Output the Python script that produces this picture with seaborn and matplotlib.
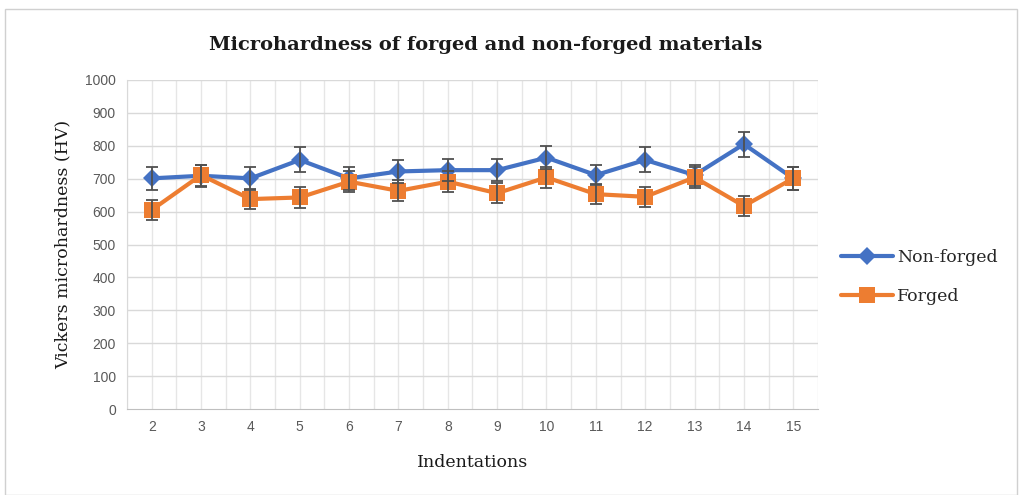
import pandas as pd
import numpy as np
import matplotlib
matplotlib.use("Agg")
import matplotlib.pyplot as plt
import seaborn as sns
from matplotlib.patches import Rectangle

# data
indentations = [2, 3, 4, 5, 6, 7, 8, 9, 10, 11, 12, 13, 14, 15]
non_forged = [701, 709, 701, 757, 701, 722, 726, 726, 764, 711, 757, 711, 805, 701]
non_forged_err = [35, 33, 35, 38, 35, 35, 34, 34, 34, 31, 38, 32, 38, 34]
forged = [605, 711, 638, 643, 691, 663, 691, 656, 704, 653, 645, 704, 617, 701]
forged_err = [30, 32, 30, 31, 32, 32, 32, 31, 32, 30, 31, 32, 31, 34]

series_names = ["Non-forged", "Forged"]
colors = ["#4472C4", "#ED7D31"]
markers = ["D", "s"]

df = pd.DataFrame({
    "Indentations": indentations * 2,
    "HV": non_forged + forged,
    "err": non_forged_err + forged_err,
    "Material": ["Non-forged"] * len(indentations) + ["Forged"] * len(indentations),
})

sns.set_style("white")
fig = plt.figure(figsize=(10.22, 4.95), dpi=100)
ax = fig.add_axes([0.1243, 0.1737, 0.676, 0.6647])

# gridlines at every half category, like the original
for x in np.arange(1.5, 15.6, 0.5):
    ax.axvline(x, color="#E6E6E6", lw=1, zorder=0)
for y in range(100, 1001, 100):
    ax.axhline(y, color="#D9D9D9", lw=1, zorder=0)

sns.lineplot(data=df, x="Indentations", y="HV", hue="Material", style="Material",
             hue_order=series_names, style_order=series_names,
             palette=colors, markers=markers, dashes=False, lw=3,
             markersize=9, markeredgewidth=0, ax=ax, legend=True, zorder=3)
# squares a bit bigger
for line in ax.get_lines():
    if line.get_marker() == "s":
        line.set_markersize(11)

for vals, errs in [(non_forged, non_forged_err), (forged, forged_err)]:
    ax.errorbar(indentations, vals, yerr=errs, fmt="none", ecolor="#505050",
                elinewidth=1.3, capsize=4, capthick=1.3, zorder=4)

ax.set_xlim(1.5, 15.5)
ax.set_ylim(0, 1000)
ax.set_xticks(indentations)
ax.set_yticks(range(0, 1001, 100))
ax.tick_params(axis="both", length=0, labelsize=10, labelcolor="#595959", pad=8)
for lab in ax.get_xticklabels() + ax.get_yticklabels():
    lab.set_family("Liberation Sans")
for s in ["top", "right"]:
    ax.spines[s].set_visible(False)
ax.spines["left"].set_color("#D9D9D9")
ax.spines["bottom"].set_color("#BFBFBF")

ax.set_xlabel("Indentations", family="DejaVu Serif", fontsize=12.5, color="#1a1a1a", labelpad=14)
ax.set_ylabel("Vickers microhardness (HV)", family="DejaVu Serif", fontsize=12.5, color="#1a1a1a", labelpad=10)

fig.text(486 / 1022, 1 - 45 / 495, "Microhardness of forged and non-forged materials",
         ha="center", va="center", family="DejaVu Serif", fontsize=14, fontweight="bold",
         color="#1a1a1a")

handles, labels = ax.get_legend_handles_labels()
ax.legend_.remove()
fig.legend(handles, labels, loc="center left", bbox_to_anchor=(0.808, 0.44),
           frameon=False, prop={"family": "DejaVu Serif", "size": 12.5},
           handlelength=3.0, labelspacing=1.3, handletextpad=0.2)

fig.patches.append(Rectangle((5 / 1022, 0.0), 1012 / 1022, 1 - 9 / 495,
                             transform=fig.transFigure, fill=False,
                             edgecolor="#D0D0D0", lw=1))

fig.savefig("out.png", dpi=100)
